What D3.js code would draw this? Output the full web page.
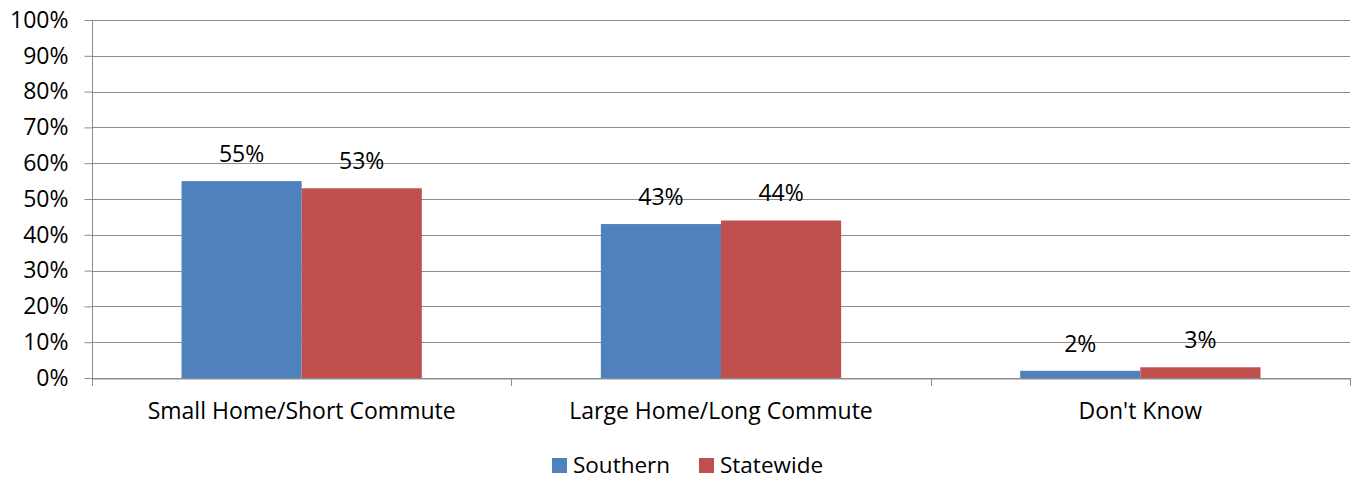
<!DOCTYPE html>
<html><head><meta charset="utf-8">
<script src="https://cdn.jsdelivr.net/npm/d3@7"></script>
<style>body{margin:0;background:#fff;} text{font-family:"Open Sans",sans-serif;fill:#000;}</style>
</head><body><svg id="c" width="1355" height="479"></svg>
<script>
const categories = ["Small Home/Short Commute","Large Home/Long Commute","Don't Know"];
const seriesNames = ["Southern","Statewide"];
const southern = [55,43,2];
const statewide = [53,44,3];
const yTicks = [0,10,20,30,40,50,60,70,80,90,100];
const colors = ["#4F81BD","#C0504D"];

(function(){
const svg = d3.select("#c");
const FS = "23px";
const pL=92, pR=1350, pT=20, pB=378;
const x = d3.scaleBand().domain(categories).range([pL,pR]).paddingInner(0).paddingOuter(0);
const bw = x.bandwidth();
const barW = bw*0.2865;
const off = (bw - 2*barW)/2;
const y = d3.scaleLinear().domain([0,100]).range([pB,pT]);

svg.append("g").selectAll("line").data(yTicks).join("line")
  .attr("x1",pL).attr("x2",pR).attr("y1",d=>Math.round(y(d))+0.5).attr("y2",d=>Math.round(y(d))+0.5)
  .attr("stroke","#8c8c8c").attr("stroke-width",1);

const ya = svg.append("g").attr("transform",`translate(${pL+0.5},0)`)
  .call(d3.axisLeft(y).tickValues(yTicks).tickFormat(d=>d+"%").tickSize(8).tickPadding(16));
ya.select(".domain").attr("stroke","#8c8c8c").attr("d",`M0,${pT}V${pB+8}`);
ya.selectAll(".tick line").attr("stroke","#8c8c8c");
ya.selectAll(".tick text").style("font-size",FS).style("font-family","'Open Sans',sans-serif").attr("fill","#000");

const xa = svg.append("g").attr("transform",`translate(0,${Math.round(pB)+0.5})`)
  .call(d3.axisBottom(x).tickSize(0).tickPadding(24));
xa.select(".domain").attr("stroke","#8c8c8c");
xa.selectAll(".tick text").style("font-size",FS).style("font-family","'Open Sans',sans-serif").attr("fill","#000");
const bounds = categories.map(c=>x(c)).concat([pR]);
svg.append("g").selectAll("line").data(bounds).join("line")
  .attr("x1",d=>Math.round(d)+0.5).attr("x2",d=>Math.round(d)+0.5)
  .attr("y1",pB).attr("y2",pB+8).attr("stroke","#8c8c8c");

const data = [southern, statewide];
data.forEach((vals,si)=>{
  const g = svg.append("g");
  g.selectAll("rect").data(vals).join("rect")
    .attr("x",(d,i)=>x(categories[i])+off+si*barW)
    .attr("width",barW)
    .attr("y",d=>y(d))
    .attr("height",d=>pB-y(d))
    .attr("fill",colors[si]);
  g.selectAll("text").data(vals).join("text")
    .attr("x",(d,i)=>x(categories[i])+off+si*barW+barW/2)
    .attr("y",d=>y(d)-19)
    .attr("text-anchor","middle")
    .style("font-size",FS)
    .text(d=>d+"%");
});

const lg = svg.append("g").attr("transform","translate(552,458)");
seriesNames.forEach((n,i)=>{
  const gx = i*147;
  lg.append("rect").attr("x",gx).attr("y",0).attr("width",15).attr("height",15).attr("fill",colors[i]);
  lg.append("text").attr("x",gx+21).attr("y",15).style("font-size","22.5px").text(n);
});
})();
</script></body></html>
